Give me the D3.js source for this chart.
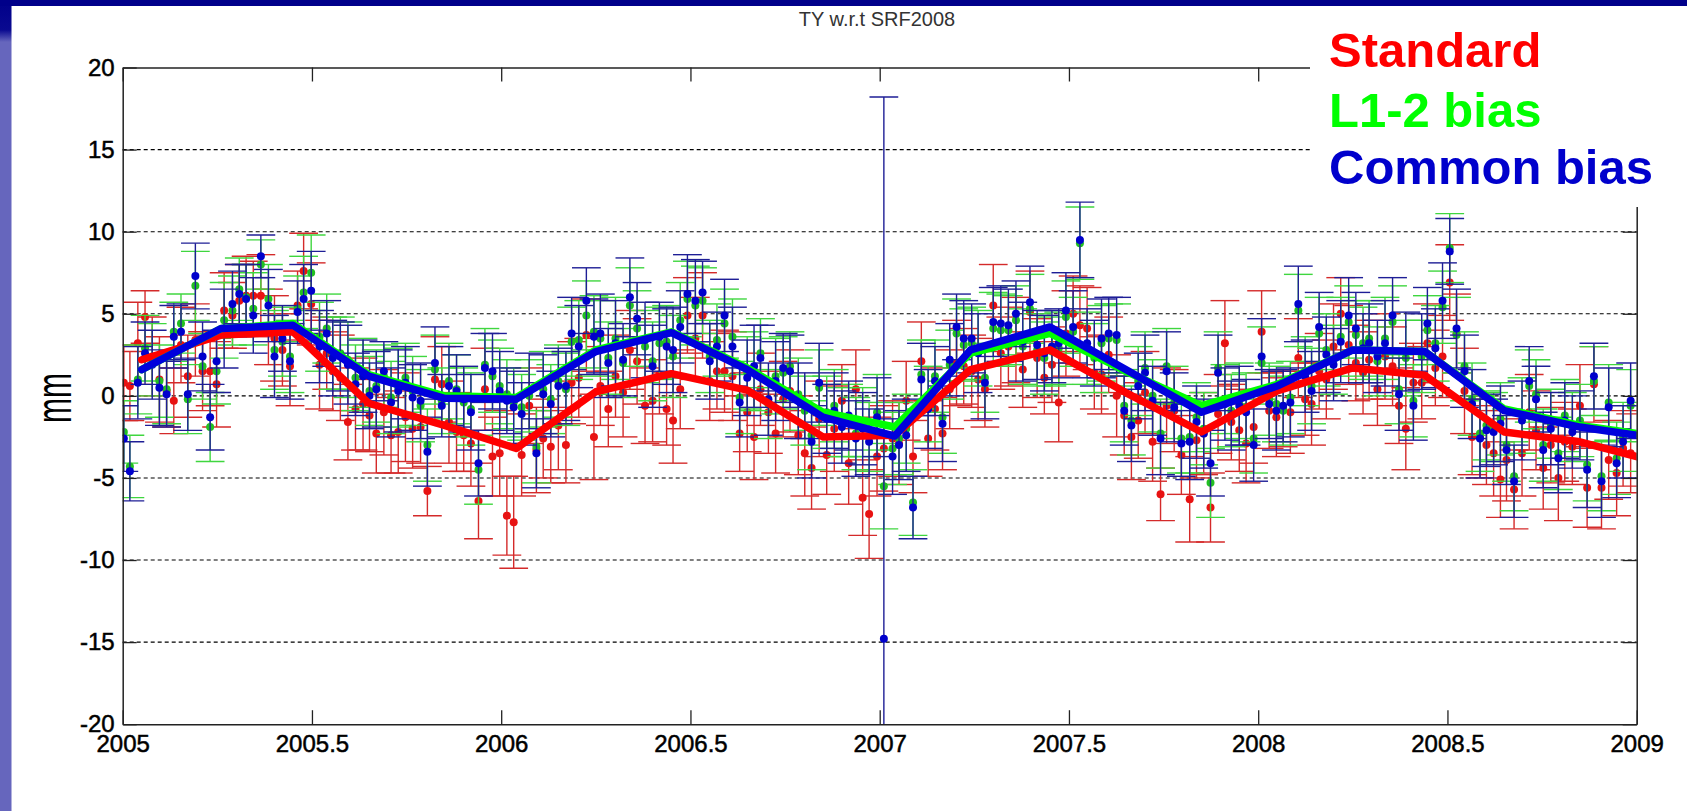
<!DOCTYPE html>
<html>
<head>
<meta charset="utf-8">
<style>
html, body { margin: 0; padding: 0; background: #fff; }
svg { display: block; font-family: "Liberation Sans", Arial, sans-serif; }
</style>
</head>
<body>
<div id="container"></div>
<script src="https://cdn.jsdelivr.net/npm/d3@7"></script>
<script>

// weekly solution epochs (decimal year)
const epochs = [
 2005.003,2005.019,2005.040,2005.059,2005.078,2005.097,2005.116,2005.135,2005.154,2005.172,
 2005.192,2005.211,2005.231,2005.248,2005.268,2005.290,2005.308,2005.326,2005.345,2005.365,
 2005.385,2005.401,2005.422,2005.442,2005.462,2005.478,2005.498,2005.520,2005.539,2005.555,
 2005.575,2005.595,2005.615,2005.635,2005.652,2005.670,2005.690,2005.709,2005.728,2005.747,
 2005.766,2005.787,2005.805,2005.825,2005.843,2005.862,2005.882,2005.901,2005.920,2005.940,
 2005.957,2005.977,2005.996,2006.015,2006.033,2006.054,2006.074,2006.093,2006.111,2006.131,
 2006.151,2006.171,2006.186,2006.205,2006.225,2006.245,2006.262,2006.283,2006.302,2006.322,
 2006.340,2006.359,2006.380,2006.400,2006.418,2006.437,2006.454,2006.473,2006.492,2006.513,
 2006.532,2006.551,2006.570,2006.590,2006.611,2006.630,2006.650,2006.668,2006.685,2006.706,
 2006.725,2006.745,2006.763,2006.785,2006.802,2006.820,2006.840,2006.860,2006.880,2006.900,
 2006.918,2006.937,2006.955,2006.972,2006.993,2007.011,2007.034,2007.051,2007.070,2007.088,
 2007.110,2007.128,2007.146,2007.166,2007.185,2007.203,2007.222,2007.243,2007.260,2007.278,
 2007.300,2007.320,2007.340,2007.360,2007.378,2007.397,2007.416,2007.435,2007.455,2007.473,
 2007.492,2007.511,2007.529,2007.548,2007.567,2007.586,2007.605,2007.626,2007.646,2007.665,
 2007.683,2007.701,2007.721,2007.742,2007.758,2007.778,2007.797,2007.819,2007.837,2007.856,
 2007.874,2007.894,2007.912,2007.929,2007.950,2007.968,2007.988,2008.009,2008.029,2008.048,
 2008.066,2008.085,2008.106,2008.124,2008.141,2008.161,2008.180,2008.199,2008.218,2008.239,
 2008.258,2008.277,2008.293,2008.315,2008.335,2008.355,2008.372,2008.390,2008.410,2008.432,
 2008.447,2008.468,2008.487,2008.506,2008.524,2008.545,2008.565,2008.586,2008.603,2008.622,
 2008.640,2008.656,2008.676,2008.697,2008.716,2008.734,2008.753,2008.773,2008.793,2008.810,
 2008.830,2008.850,2008.869,2008.887,2008.907,2008.926,2008.947,2008.964,2008.984
];

// TY residuals, mm
const standard = [
 0.8,0.6,3.2,4.8,2.4,1.0,0.3,-0.3,3.1,1.2,
 3.4,1.5,1.5,0.7,5.2,4.9,5.8,6.1,6.1,6.1,
 4.2,3.5,2.8,1.8,5.5,7.6,5.6,1.9,2.6,1.5,
 1.1,-1.6,-0.8,-0.5,-1.2,-2.3,-1.0,-2.4,-2.2,-1.3,
 -2.0,-1.9,-5.8,1.0,0.7,-1.6,-2.2,-2.4,-2.9,-6.4,
 0.4,-3.7,-3.5,-7.3,-7.7,-3.6,-0.6,-3.3,-2.6,-3.1,
 -1.8,-3.0,0.8,1.1,3.7,-2.5,0.6,-0.8,1.2,0.2,
 2.8,2.1,-0.6,-0.3,1.3,-0.8,-1.5,0.4,4.9,3.5,
 4.9,0.9,1.5,1.5,1.2,-2.3,-1.0,-2.5,0.4,-1.0,
 -2.3,-0.2,0.3,-2.4,-3.5,-4.4,-1.4,-3.6,-2.0,-0.3,
 -4.1,0.4,-6.2,-7.2,-3.7,-3.2,-2.6,-2.9,-0.3,-3.7,
 2.1,-2.6,-0.8,-2.3,0.4,2.0,1.8,1.5,1.0,0.4,
 5.5,2.6,3.0,3.4,1.6,5.1,2.3,1.1,1.9,-0.4,
 3.8,5.0,4.3,4.1,1.4,1.3,2.5,0.0,-1.2,-2.5,
 -1.5,0.2,-2.8,-6.0,-0.6,-0.9,-3.6,-6.3,-2.7,-2.3,
 -6.8,-1.1,3.2,-1.6,-2.1,-2.9,-1.9,3.9,-0.9,-1.3,
 -0.8,-1.0,2.3,-0.2,-0.5,1.5,1.0,3.0,5.0,3.1,
 2.0,1.4,2.2,0.4,2.4,1.8,-0.6,-2.0,0.8,0.8,
 3.2,1.7,2.4,6.9,3.8,0.3,-2.5,-2.5,-3.0,-3.5,
 -5.1,-3.9,-5.7,-3.5,-1.0,-2.1,-4.4,-3.0,-5.0,-2.8,
 -3.1,-0.6,-5.6,0.7,-5.6,-3.9,-4.7,-3.2,-3.5
];
const l12_bias = [
 -2.2,-4.3,1.0,2.9,2.2,0.9,0.4,3.9,4.4,-0.2,
 6.7,1.8,-1.9,1.5,4.6,5.2,6.5,6.0,5.3,8.0,
 5.9,2.8,3.3,2.4,5.3,6.3,7.5,3.6,4.1,2.6,
 2.6,2.2,1.1,1.4,0.3,0.6,1.2,-0.1,0.5,1.1,
 0.3,-0.6,-3.0,1.6,-0.3,0.9,0.4,-0.4,-0.8,-4.5,
 1.9,1.2,0.6,0.1,-0.4,-0.7,0.0,-3.1,0.4,-0.2,
 0.9,0.4,3.3,3.4,4.9,3.9,3.5,2.3,3.5,2.0,
 5.5,4.1,3.0,2.1,3.2,3.3,2.4,4.6,5.9,5.5,
 5.8,2.4,3.4,4.4,3.6,-0.1,1.4,1.5,2.6,-0.5,
 1.2,1.4,1.8,0.1,-0.9,-2.4,0.5,-1.0,-0.6,-1.6,
 -1.5,-2.3,-1.6,-2.5,-1.0,-5.5,-3.2,-2.6,-2.0,-6.5,
 1.3,-0.5,1.2,-1.3,1.9,3.8,3.1,3.2,2.9,1.1,
 4.1,4.0,4.0,4.6,3.0,5.3,2.8,2.3,2.7,2.9,
 4.8,3.9,9.3,2.9,2.3,3.2,3.5,3.4,-0.6,-1.5,
 0.9,1.7,0.0,-2.3,1.8,-0.4,-2.6,-2.5,-1.3,-2.0,
 -5.3,1.7,-0.2,-0.9,-0.3,-0.7,-2.6,2.0,-0.2,-0.5,
 -0.9,-0.1,5.2,1.5,0.6,3.8,2.8,2.2,3.6,4.5,
 3.7,3.2,3.5,2.1,3.5,4.5,0.4,2.3,-0.3,2.4,
 4.0,3.2,5.4,9.0,3.7,1.8,-0.2,-2.3,-1.8,-1.9,
 -1.4,-3.0,-4.9,-1.2,0.6,0.1,-3.0,-1.7,-3.5,-1.2,
 -1.9,-1.5,-4.2,0.9,-4.9,-0.4,-3.8,-2.5,-0.6
];
const common_bias = [
 -2.6,-4.6,0.8,2.6,1.9,0.5,0.1,3.6,3.9,0.1,
 7.3,2.4,-1.3,2.1,4.1,5.6,6.2,5.9,4.9,8.5,
 5.5,2.4,3.5,2.1,5.1,5.9,6.4,3.0,3.8,2.3,
 2.4,1.9,0.7,1.2,0.0,0.4,1.5,-0.4,0.3,0.8,
 -0.1,-0.3,-3.4,2.0,-0.6,0.6,0.3,-0.2,-1.0,-4.1,
 1.7,1.5,0.3,-0.3,-0.7,-1.1,0.3,-3.5,0.1,-0.5,
 0.6,0.6,3.8,3.0,5.8,3.6,3.8,2.0,3.2,2.2,
 6.0,4.7,3.4,1.8,3.6,3.0,2.8,4.2,6.2,5.8,
 6.3,2.1,3.0,4.9,3.0,-0.4,1.1,1.8,2.3,-0.2,
 0.9,1.7,1.5,-0.3,-0.6,-2.8,0.8,-1.4,-0.9,-1.9,
 -1.2,-2.6,-2.0,-2.8,-1.3,-14.8,-3.7,-3.0,-2.4,-6.8,
 1.0,-0.8,0.9,-1.7,2.2,4.2,3.5,3.5,2.6,0.8,
 4.5,4.4,4.3,5.0,3.3,5.7,3.1,2.6,3.0,3.2,
 5.2,4.2,9.5,3.2,2.6,3.5,3.8,3.7,-0.9,-1.8,
 0.6,1.4,-0.3,-2.6,1.5,-0.7,-2.9,-2.8,-1.6,-2.3,
 -4.1,1.4,-0.5,-1.2,-0.6,-1.0,-3.0,2.4,-0.5,-0.9,
 -0.6,-0.4,5.6,1.2,0.3,4.2,2.5,1.9,3.3,4.9,
 4.1,2.9,3.2,2.4,3.2,4.9,0.1,2.7,-0.6,2.7,
 4.4,2.9,5.8,8.8,4.1,1.5,-0.5,-2.6,-2.1,-2.2,
 -1.7,-3.3,-5.2,-1.5,0.9,-0.2,-3.3,-2.0,-3.8,-1.5,
 -2.2,-1.8,-4.5,1.2,-5.2,-0.7,-4.1,-2.8,-0.3
];

// formal errors (half bar length), mm
const sig_standard = [
 2.3,2.1,2.5,1.6,2.4,2.6,2.2,2.0,2.3,2.5,
 2.2,2.4,2.1,2.6,2.3,2.0,2.2,2.4,2.1,2.5,
 2.3,2.6,2.2,2.4,2.1,2.3,2.5,2.7,2.2,2.4,
 2.6,2.3,2.5,2.8,2.2,2.4,2.6,2.3,2.5,2.7,
 2.4,2.2,1.5,2.6,2.3,2.5,2.4,2.2,2.6,2.3,
 2.5,2.4,2.6,2.4,2.8,2.5,2.3,2.6,2.4,2.2,
 2.7,2.3,2.5,2.4,2.2,2.6,2.4,2.3,2.5,2.7,
 2.4,2.6,2.3,2.5,2.4,2.2,2.6,2.4,2.3,2.5,
 2.6,2.4,2.3,2.5,2.7,2.3,2.4,2.6,2.2,2.5,
 2.4,2.3,2.5,2.4,2.6,2.5,2.3,2.4,2.6,2.2,
 2.5,2.4,2.3,2.7,2.4,2.6,2.3,2.5,2.4,2.2,
 2.4,2.3,2.5,2.2,2.4,2.6,2.3,2.2,2.5,2.3,
 2.5,2.2,2.4,2.6,2.3,2.5,2.4,2.2,2.3,2.4,
 2.6,2.3,2.4,2.5,2.2,2.4,2.3,2.5,2.4,2.6,
 2.3,2.5,2.4,1.6,2.3,2.5,2.4,2.6,2.3,2.5,
 2.1,2.4,2.6,2.3,2.5,2.4,2.2,2.5,2.3,2.4,
 2.3,2.5,2.4,2.2,2.5,2.3,2.4,2.6,2.2,2.4,
 2.3,2.5,2.4,2.2,2.6,2.4,2.3,2.5,2.4,2.2,
 2.4,2.3,2.5,2.3,2.4,2.6,2.3,2.5,2.4,2.6,
 2.3,2.5,2.4,2.6,2.3,2.4,2.5,2.3,2.6,2.4,
 2.3,2.5,2.4,2.3,2.5,2.4,2.6,2.3,2.4
];
const sig_l12 = [
 1.9,1.9,2.1,2.0,2.2,2.2,2.1,1.8,1.8,2.1,
 2.1,2.0,2.1,2.0,2.3,2.1,1.9,2.0,2.2,1.5,
 2.1,2.4,2.1,2.2,2.0,2.2,2.3,2.1,2.1,2.2,
 2.2,2.3,2.0,2.1,2.1,2.2,1.9,2.2,2.4,2.1,
 2.1,2.2,2.2,2.1,2.0,2.3,2.1,2.1,2.2,2.1,
 2.2,2.2,2.3,2.1,2.1,2.0,2.2,2.2,2.3,2.1,
 2.2,2.2,2.1,2.4,2.1,2.2,2.3,2.2,2.5,2.1,
 2.3,2.3,2.2,2.4,2.2,2.2,2.5,2.3,2.3,2.4,
 2.0,2.2,2.2,2.1,2.3,2.2,2.2,2.4,2.1,2.1,
 2.3,2.2,2.1,2.2,2.1,2.1,2.3,2.2,2.2,2.1,
 2.2,2.2,2.1,2.1,2.3,2.6,2.2,2.2,2.1,2.0,
 2.1,2.3,2.2,2.2,2.1,2.1,2.2,2.2,2.3,2.1,
 2.2,2.2,2.1,2.1,2.3,2.1,2.2,2.2,2.1,2.2,
 2.2,2.1,2.2,2.2,2.1,2.3,2.1,2.2,2.2,2.1,
 2.1,2.2,2.2,2.1,2.3,2.2,2.1,2.2,2.1,2.2,
 2.1,2.2,2.1,2.2,2.3,2.1,2.1,2.2,2.2,2.3,
 2.1,2.2,2.2,2.1,2.3,2.2,2.2,2.1,2.4,2.2,
 2.1,2.2,2.3,2.1,2.5,2.2,2.1,2.3,2.2,2.2,
 2.1,2.3,2.2,2.1,2.3,2.1,2.2,2.3,2.1,2.1,
 2.2,2.2,2.1,2.3,2.2,2.1,2.2,2.1,2.2,2.2,
 2.1,2.2,2.2,2.1,2.1,2.3,2.2,2.1,2.2
];
const sig_common = [
 2.0,1.8,2.2,1.9,2.1,2.3,2.0,1.9,1.7,2.2,
 2.0,2.1,2.0,1.9,2.4,2.0,1.8,2.1,2.3,1.3,
 2.2,2.5,2.0,2.3,1.9,2.1,2.4,2.2,2.0,2.3,
 2.1,2.4,1.9,2.2,2.0,2.3,1.8,2.1,2.5,2.2,
 2.0,2.3,2.1,2.2,1.9,2.4,2.2,2.0,2.3,2.0,
 2.1,2.3,2.4,2.0,2.2,1.9,2.3,2.1,2.4,2.0,
 2.3,2.1,2.2,2.5,2.0,2.3,2.4,2.1,2.6,2.2,
 2.4,2.2,2.3,2.5,2.1,2.3,2.6,2.2,2.4,2.5,
 1.9,2.3,2.1,2.2,2.4,2.1,2.3,2.5,2.0,2.2,
 2.4,2.1,2.2,2.3,2.0,2.2,2.4,2.1,2.3,2.2,
 2.1,2.3,2.2,2.0,2.4,33.0,2.3,2.1,2.2,1.9,
 2.2,2.4,2.1,2.3,2.2,2.0,2.3,2.1,2.4,2.2,
 2.1,2.3,2.2,2.0,2.4,2.2,2.1,2.3,2.2,2.1,
 2.3,2.2,2.3,2.1,2.0,2.4,2.2,2.3,2.1,2.2,
 2.0,2.3,2.1,2.2,2.4,2.1,2.0,2.3,2.2,2.1,
 2.0,2.3,2.2,2.1,2.4,2.0,2.2,2.3,2.1,2.4,
 2.2,2.1,2.3,2.2,2.4,2.1,2.3,2.2,2.5,2.3,
 2.2,2.1,2.4,2.2,2.6,2.3,2.2,2.4,2.1,2.3,
 2.2,2.4,2.3,2.0,2.4,2.2,2.1,2.4,2.2,2.0,
 2.3,2.1,2.2,2.4,2.1,2.0,2.3,2.2,2.1,2.3,
 2.2,2.1,2.3,2.0,2.2,2.4,2.1,2.2,2.3
];

// smoothed (thick) curves
const knot_years = [2005.05,2005.26,2005.45,2005.65,2005.85,2006.04,2006.25,2006.45,2006.65,2006.85,
                    2007.04,2007.24,2007.45,2007.65,2007.85,2008.05,2008.25,2008.44,2008.65,2008.85,2009.0];
const fit_standard = [2.2,3.7,3.9,-0.45,-1.8,-3.2,0.25,1.35,0.35,-2.5,-2.4,1.6,2.8,0.2,-2.2,0.3,1.7,1.25,-2.2,-2.8,-3.7];
const fit_l12      = [1.6,4.1,4.4,1.3,0.0,-0.1,2.8,3.9,1.7,-1.0,-1.9,2.6,3.8,1.5,-0.6,0.7,2.8,2.7,-0.8,-1.8,-2.3];
const fit_common   = [1.6,4.1,4.3,1.2,-0.15,-0.2,2.7,3.85,1.6,-1.3,-2.45,2.8,4.2,1.6,-1.0,0.6,2.8,2.7,-0.9,-1.9,-2.4];

const x_ticks = [2005, 2005.5, 2006, 2006.5, 2007, 2007.5, 2008, 2008.5, 2009];
const y_ticks = [-20, -15, -10, -5, 0, 5, 10, 15, 20];
const legend_labels = ["Standard", "L1-2 bias", "Common bias"];
const title_text = "TY w.r.t SRF2008";
const y_label = "mm";

var W = 1687, H = 811;
var plot_l = 122.7, plot_r = 1636.7, plot_t = 67.5, plot_b = 724.2;
var cap_half = 0.038;

var svg = d3.select("#container").append("svg")
    .attr("width", W)
    .attr("height", H);

// slide decoration
var defs = svg.append("defs");
var grad = defs.append("linearGradient")
    .attr("id", "strip")
    .attr("gradientUnits", "userSpaceOnUse")
    .attr("x1", 0).attr("y1", 0).attr("x2", 0).attr("y2", H);
grad.append("stop").attr("offset", 0).attr("stop-color", "#00008a");
grad.append("stop").attr("offset", 30 / H).attr("stop-color", "#0a0a90");
grad.append("stop").attr("offset", 42 / H).attr("stop-color", "#6666bd");
grad.append("stop").attr("offset", 1).attr("stop-color", "#6666bd");

defs.append("clipPath").attr("id", "plotclip")
    .append("rect")
    .attr("x", plot_l).attr("y", plot_t)
    .attr("width", plot_r - plot_l).attr("height", plot_b - plot_t);

svg.append("rect").attr("x", 0).attr("y", 0).attr("width", 11.5).attr("height", H)
    .attr("fill", "url(#strip)");
svg.append("rect").attr("x", 0).attr("y", 0).attr("width", W).attr("height", 6)
    .attr("fill", "#00008a");

var x = d3.scaleLinear().domain([2005, 2009]).range([plot_l, plot_r]);
var y = d3.scaleLinear().domain([-20, 20]).range([plot_b, plot_t]);

// dotted grid
svg.append("g")
    .selectAll("line")
    .data(y_ticks.filter(function(d){ return d > -20 && d < 20; }))
    .enter().append("line")
    .attr("x1", plot_l).attr("x2", plot_r)
    .attr("y1", function(d){ return y(d); })
    .attr("y2", function(d){ return y(d); })
    .attr("stroke", "#000")
    .attr("stroke-width", 1.1)
    .attr("stroke-dasharray", "4,3");

var plot = svg.append("g").attr("clip-path", "url(#plotclip)");

var draw_series = function(vals, sig, bar_col, dot_col){
    var rows = epochs.map(function(e, i){ return {t: e, v: vals[i], s: sig[i]}; });
    var g = plot.append("g");

    g.selectAll("line.vbar").data(rows).enter().append("line")
	.attr("x1", function(d){ return x(d.t); })
	.attr("x2", function(d){ return x(d.t); })
	.attr("y1", function(d){ return y(d.v - d.s); })
	.attr("y2", function(d){ return y(d.v + d.s); })
	.attr("stroke", bar_col).attr("stroke-width", 1.4);

    [-1, 1].forEach(function(k){
	g.selectAll("line.cap" + k).data(rows).enter().append("line")
	    .attr("x1", function(d){ return x(d.t - cap_half); })
	    .attr("x2", function(d){ return x(d.t + cap_half); })
	    .attr("y1", function(d){ return y(d.v + k * d.s); })
	    .attr("y2", function(d){ return y(d.v + k * d.s); })
	    .attr("stroke", bar_col).attr("stroke-width", 1.4);
    });

    g.selectAll("circle").data(rows).enter().append("circle")
	.attr("cx", function(d){ return x(d.t); })
	.attr("cy", function(d){ return y(d.v); })
	.attr("r", 4)
	.attr("fill", dot_col);
};

draw_series(standard, sig_standard, "#d42a2a", "#e81212");
draw_series(l12_bias, sig_l12, "#3fd63f", "#22c022");
draw_series(common_bias, sig_common, "#1e1e96", "#0000cc");

var fit_line = d3.line()
    .x(function(d){ return x(d[0]); })
    .y(function(d){ return y(d[1]); });

[[fit_standard, "#ff0000"], [fit_l12, "#00ff00"], [fit_common, "#0000dd"]].forEach(function(f){
    plot.append("path")
	.datum(knot_years.map(function(t, i){ return [t, f[0][i]]; }))
	.attr("d", fit_line)
	.attr("fill", "none")
	.attr("stroke", f[1])
	.attr("stroke-width", 7.5)
	.attr("stroke-linejoin", "round")
	.attr("stroke-linecap", "round");
});

// axes, matlab style (ticks inward)
var style_axis = function(a){
    a.selectAll("path.domain").attr("stroke", "#222").attr("stroke-width", 1.5).attr("fill", "none");
    a.selectAll(".tick line").attr("stroke", "#222").attr("stroke-width", 1.3);
    a.selectAll("text").attr("fill", "#000")
	.attr("stroke", "#000").attr("stroke-width", 0.5)
	.style("font-size", "24px")
	.style("font-family", "'Liberation Sans', Arial, sans-serif");
};

svg.append("g").attr("transform", "translate(0," + plot_b + ")")
    .call(d3.axisBottom(x).tickValues(x_ticks).tickSize(-14).tickSizeOuter(0).tickPadding(11)
	  .tickFormat(function(d){ return String(d); }))
    .call(style_axis);
svg.append("g").attr("transform", "translate(0," + plot_t + ")")
    .call(d3.axisTop(x).tickValues(x_ticks).tickSize(-14).tickSizeOuter(0).tickFormat(""))
    .call(style_axis);
svg.append("g").attr("transform", "translate(" + plot_l + ",0)")
    .call(d3.axisLeft(y).tickValues(y_ticks).tickSize(-14).tickSizeOuter(0).tickPadding(8)
	  .tickFormat(function(d){ return String(d); }))
    .call(style_axis);
svg.append("g").attr("transform", "translate(" + plot_r + ",0)")
    .call(d3.axisRight(y).tickValues(y_ticks).tickSize(-14).tickSizeOuter(0).tickFormat(""))
    .call(style_axis);

// title + y label
svg.append("text")
    .attr("x", 877).attr("y", 26)
    .attr("text-anchor", "middle")
    .style("font-size", "20px")
    .attr("fill", "#333")
    .text(title_text);

svg.append("text")
    .attr("transform", "translate(70.5,398) rotate(-90) scale(1,1.65)")
    .attr("text-anchor", "middle")
    .style("font-size", "30px")
    .attr("fill", "#000")
    .text(y_label);

// legend text box (white background covers the axes corner)
svg.append("rect")
    .attr("x", 1310).attr("y", 6)
    .attr("width", W - 1310).attr("height", 201)
    .attr("fill", "#fff");

var legend_cols = ["#ff0000", "#00ff00", "#0000cc"];
var legend_base = [66.7, 126.7, 184];
svg.append("g").selectAll("text")
    .data(legend_labels)
    .enter().append("text")
    .attr("x", 1329)
    .attr("y", function(d, i){ return legend_base[i]; })
    .attr("fill", function(d, i){ return legend_cols[i]; })
    .style("font-size", "49px")
    .style("font-weight", "bold")
    .text(function(d){ return d; });

</script>
</body>
</html>
